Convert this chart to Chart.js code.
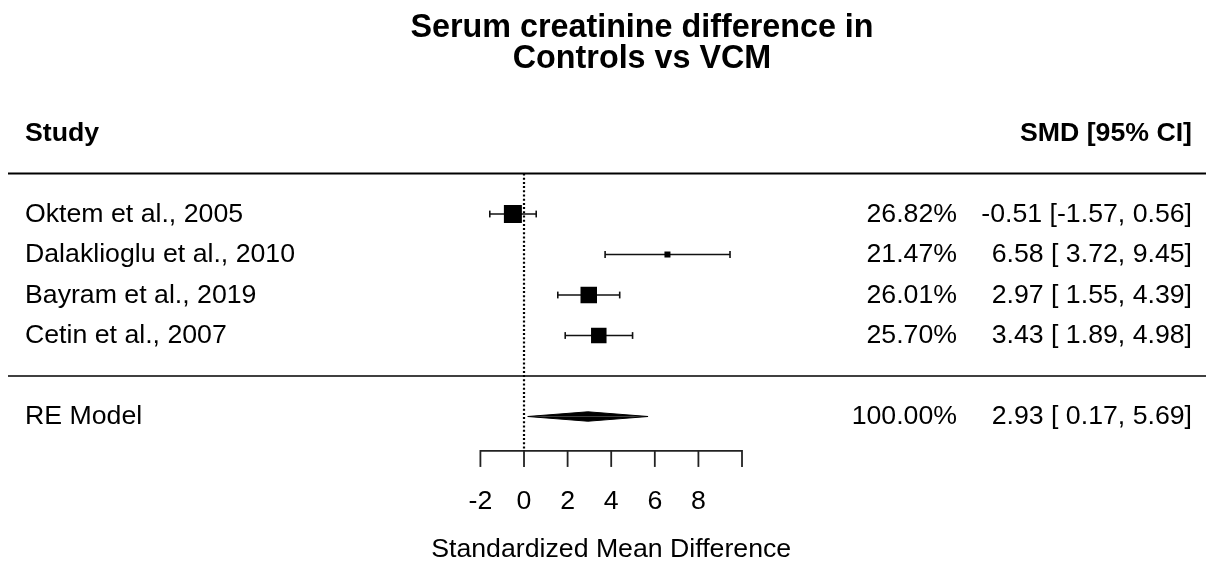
<!DOCTYPE html>
<html>
<head>
<meta charset="utf-8">
<script src="https://cdn.jsdelivr.net/npm/chart.js@4/dist/chart.umd.min.js"></script>
<style>
  html, body { margin: 0; padding: 0; background: #ffffff; }
  #wrap { width: 1206px; height: 563px; }
</style>
</head>
<body>
<div id="wrap"><canvas id="c" width="1206" height="563"></canvas></div>
<script>
// ---------- data ----------
const studies  = ['Oktem et al., 2005', 'Dalaklioglu et al., 2010', 'Bayram et al., 2019', 'Cetin et al., 2007'];
const rows     = [4, 3, 2, 1];
const smd      = [-0.51, 6.58, 2.97, 3.43];
const ciLow    = [-1.57, 3.72, 1.55, 1.89];
const ciHigh   = [0.56, 9.45, 4.39, 4.98];
const weights  = [26.82, 21.47, 26.01, 25.70];
const markerSide = [18, 6, 16.5, 15.5];   // square sides (px)

const reLabel  = 'RE Model';
const reRow    = -1;
const reEst    = 2.93;
const reLow    = 0.17;
const reHigh   = 5.69;
const reWeight = 100.00;

const axisTicks      = [-2, 0, 2, 4, 6, 8, 10];
const axisTickLabels = ['-2', '0', '2', '4', '6', '8', ''];

const titleLines = ['Serum creatinine difference in', 'Controls vs VCM'];
const headerLeft  = 'Study';
const headerRight = 'SMD [95% CI]';
const axisTitle   = 'Standardized Mean Difference';

// ---------- layout constants ----------
const headerRow = 6;
const topRuleRow = 5;
const midRuleRow = 0;
const axisRow = -1.85;
const diamondHalf = 0.116;
const FONT = '"Liberation Sans", Arial, Helvetica, sans-serif';
const BODY_PX = 26.7;
const TITLE_PX = 32.3;

// ---------- formatting ----------
function padCol(vals) {
  const s = vals.map(v => v.toFixed(2));
  const w = Math.max(...s.map(t => t.length));
  return s.map(t => ' '.repeat(w - t.length) + t);
}
const allEst = padCol([...smd, reEst]);
const allLo  = padCol([...ciLow, reLow]);
const allHi  = padCol([...ciHigh, reHigh]);
const estText = allEst.map((e, i) => `${e.trim()} [${allLo[i]}, ${allHi[i]}]`);
const wText = [...weights, reWeight].map(w => w.toFixed(2) + '%');

// ---------- datasets ----------
const datasets = [];
// squares (on top)
datasets.push({
  label: 'squares',
  order: 0,
  showLine: false,
  data: smd.map((v, i) => ({ x: v, y: rows[i] })),
  pointStyle: 'rect',
  pointRadius: markerSide.map(s => s / Math.SQRT2),
  pointBackgroundColor: '#000',
  pointBorderWidth: 0,
  borderWidth: 0
});
// diamond halves
datasets.push({
  label: 'diamondTop', order: 1,
  data: [{ x: reLow, y: reRow }, { x: reEst, y: reRow + diamondHalf }, { x: reHigh, y: reRow }],
  borderColor: '#000', borderWidth: 1, backgroundColor: '#000',
  fill: { value: reRow }, pointRadius: 0, tension: 0
});
datasets.push({
  label: 'diamondBottom', order: 1,
  data: [{ x: reLow, y: reRow }, { x: reEst, y: reRow - diamondHalf }, { x: reHigh, y: reRow }],
  borderColor: '#000', borderWidth: 1, backgroundColor: '#000',
  fill: { value: reRow }, pointRadius: 0, tension: 0
});
// CI lines with end caps
studies.forEach((s, i) => {
  datasets.push({
    label: 'ci' + i, order: 2,
    data: [{ x: ciLow[i], y: rows[i] }, { x: ciHigh[i], y: rows[i] }],
    borderColor: '#111', borderWidth: 1.6,
    pointStyle: 'line', pointRotation: 90, pointRadius: 3.4,
    pointBorderColor: '#111', pointBorderWidth: 1.6,
    fill: false, tension: 0
  });
});
// reference line at 0
datasets.push({
  label: 'ref', order: 3,
  data: [{ x: 0, y: topRuleRow }, { x: 0, y: axisRow }],
  borderColor: '#000', borderWidth: 2.2, borderDash: [2, 2.2],
  pointRadius: 0, fill: false
});

// ---------- plugin for text, rules, axis ----------
const forestPlugin = {
  id: 'forest',
  beforeDatasetsDraw(chart) {
    const ctx = chart.ctx;
    const xs = chart.scales.x, ys = chart.scales.y;
    ctx.save();
    ctx.strokeStyle = '#000';
    // top rule
    ctx.lineWidth = 2;
    let y = ys.getPixelForValue(topRuleRow);
    ctx.beginPath(); ctx.moveTo(8, y); ctx.lineTo(1206, y); ctx.stroke();
    // middle rule
    ctx.lineWidth = 1.5;
    y = ys.getPixelForValue(midRuleRow);
    ctx.beginPath(); ctx.moveTo(8, y); ctx.lineTo(1206, y); ctx.stroke();
    // axis
    const ay = ys.getPixelForValue(axisRow);
    ctx.strokeStyle = '#222';
    ctx.lineWidth = 1.8;
    ctx.beginPath();
    ctx.moveTo(xs.getPixelForValue(axisTicks[0]), ay);
    ctx.lineTo(xs.getPixelForValue(axisTicks[axisTicks.length - 1]), ay);
    ctx.stroke();
    axisTicks.forEach(t => {
      const px = xs.getPixelForValue(t);
      ctx.beginPath(); ctx.moveTo(px, ay - 0.9); ctx.lineTo(px, ay + 16); ctx.stroke();
    });
    ctx.restore();
  },
  afterDatasetsDraw(chart) {
    const ctx = chart.ctx;
    const xs = chart.scales.x, ys = chart.scales.y;
    ctx.save();
    ctx.fillStyle = '#000';
    ctx.textBaseline = 'alphabetic';
    // title
    ctx.font = 'bold ' + TITLE_PX + 'px ' + FONT;
    ctx.textAlign = 'center';
    ctx.fillText(titleLines[0], 642, 37);
    ctx.fillText(titleLines[1], 642, 68);
    // header
    ctx.font = 'bold ' + BODY_PX + 'px ' + FONT;
    const hy = ys.getPixelForValue(headerRow) + 7.5;
    ctx.textAlign = 'left';
    ctx.fillText(headerLeft, 25, hy);
    ctx.textAlign = 'right';
    ctx.fillText(headerRight, 1192, hy);
    // rows
    ctx.font = BODY_PX + 'px ' + FONT;
    const labels = [...studies, reLabel];
    const rr = [...rows, reRow];
    labels.forEach((lab, i) => {
      const py = ys.getPixelForValue(rr[i]) + 7.5;
      ctx.textAlign = 'left';
      ctx.fillText(lab, 25, py);
      ctx.textAlign = 'right';
      ctx.fillText(wText[i], 957, py);
      ctx.fillText(estText[i], 1192, py);
    });
    // axis tick labels
    const ay = ys.getPixelForValue(axisRow);
    ctx.textAlign = 'center';
    axisTicks.forEach((t, i) => {
      if (axisTickLabels[i]) ctx.fillText(axisTickLabels[i], xs.getPixelForValue(t), ay + 58);
    });
    // axis title
    const mid = (axisTicks[0] + axisTicks[axisTicks.length - 1]) / 2;
    ctx.fillText(axisTitle, xs.getPixelForValue(mid), ay + 106);
    ctx.restore();
  }
};

new Chart(document.getElementById('c'), {
  type: 'line',
  data: { datasets },
  options: {
    responsive: false,
    animation: false,
    events: [],
    layout: { padding: 0, autoPadding: false },
    plugins: { legend: { display: false }, tooltip: { enabled: false }, title: { display: false } },
    scales: {
      x: { type: 'linear', min: -24.037, max: 31.284, display: false },
      y: { type: 'linear', min: -4.617, max: 9.284, display: false }
    }
  },
  plugins: [forestPlugin]
});
</script>
</body>
</html>
